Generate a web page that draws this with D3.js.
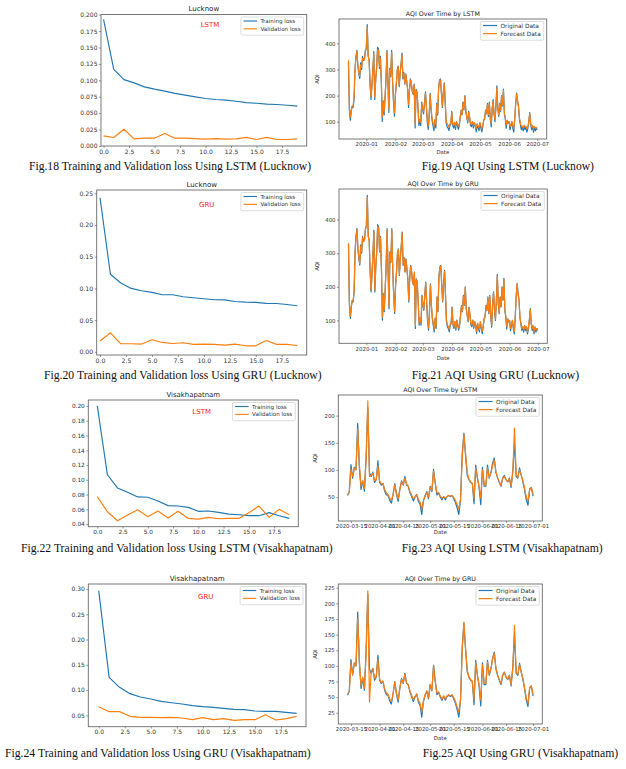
<!DOCTYPE html>
<html>
<head>
<meta charset="utf-8">
<script src="https://cdn.jsdelivr.net/npm/d3@7"></script>
<style>
body { margin: 0; background: #fff; }
svg { display: block; }
</style>
</head>
<body>
<svg id="fig" width="626" height="769"></svg>
<script>
// ---- loss curves (epochs 0..19) ----
const epochs = d3.range(20);
const lstmLkoTrain = [0.193,0.1166,0.101,0.096,0.090,0.0865,0.0835,0.080,0.0774,0.0748,0.0723,0.0707,0.0697,0.068,0.066,0.065,0.0636,0.063,0.062,0.0606];
const lstmLkoVal = [0.0153,0.0127,0.0254,0.0107,0.0117,0.0117,0.0188,0.0117,0.0117,0.011,0.0102,0.011,0.0102,0.0107,0.013,0.0097,0.013,0.0097,0.0097,0.0107];
const gruLkoTrain = [0.243,0.1223,0.1086,0.100,0.0964,0.0937,0.090,0.090,0.0869,0.0853,0.0837,0.0821,0.082,0.0794,0.0784,0.0779,0.0763,0.0762,0.0747,0.0726];
const gruLkoVal = [0.017,0.030,0.0127,0.0127,0.0122,0.019,0.0148,0.0132,0.0143,0.0117,0.0122,0.0117,0.0106,0.0122,0.0095,0.0095,0.018,0.0117,0.0117,0.010];
const lstmVizTrain = [0.200,0.1068,0.089,0.0832,0.0768,0.0764,0.0714,0.065,0.0645,0.0627,0.0573,0.0577,0.0559,0.0536,0.0527,0.0514,0.0514,0.0555,0.0514,0.0477];
const lstmVizVal = [0.0773,0.0568,0.0445,0.0523,0.0595,0.050,0.0577,0.0482,0.0573,0.0477,0.0468,0.0491,0.0473,0.0477,0.0477,0.0555,0.0645,0.0491,0.060,0.0527];
const gruVizTrain = [0.297,0.1252,0.1054,0.0929,0.0863,0.0823,0.0777,0.075,0.0724,0.0691,0.0672,0.0658,0.0639,0.0619,0.0612,0.0586,0.0579,0.0579,0.056,0.054];
const gruVizVal = [0.0672,0.0573,0.0573,0.048,0.046,0.046,0.0454,0.046,0.0447,0.0414,0.0454,0.0414,0.0434,0.0401,0.0414,0.0414,0.0513,0.0408,0.0434,0.048];

// ---- daily AQI, Lucknow from 2019-12-13 ----
const lkoStart = '2019-12-13';
const lkoOrig = [
  328,145,106,140,160,155,187,304,350,373, 314,284,265,325,300,350,335,340,373,
  380,472,350,338,244,185,240,300,368,185, 260,304,385,378,304,350,254,101,180,126,
  195,264,373,254,135,304,273,373,250,175, 121,205,244,300,313,234,283,320,363,264,
  288,244,283,254,224,155,224,264,244,214, 205,244,76,224,214,155,86,106,86,175,
  145,130,175,214,155,96,71,126,209,145, 106,86,66,106,76,170,126,230,
  259,264,205,155,214,249,175,96,81,76, 66,86,91,140,86,76,96,71,101,86,
  71,86,116,145,126,175,145,200,135,116, 96,140,116,86,81,101,76,96,86,61,
  91,76,66,96,76,61,81,106,111,145,130,
  170,120,175,110,80,150,185,130,100,160, 237,150,120,170,140,200,160,225,130,110,
  75,105,95,100,70,85,100,75,60,110, 170,210,180,160,110,90,70,80,65,85,
  70,80,60,75,100,135,90,70,85,60, 80,65,75,70
];
const lkoLstm = [
  335,160,118,145,158,162,195,298,345,368, 320,290,275,318,308,342,338,336,366,
  384,462,355,334,250,196,236,304,360,196, 256,308,376,372,310,344,258,118,176,138,
  198,262,366,258,148,300,278,365,254,180, 134,202,248,296,310,240,280,318,356,270,
  284,248,280,256,226,166,222,260,246,216, 210,240,90,220,212,160,98,110,98,170,
  150,138,172,210,158,106,84,128,204,150, 112,96,80,108,88,166,132,226,
  256,260,210,160,210,244,178,106,92,88, 80,92,96,136,92,86,98,82,100,92,
  82,90,118,142,130,170,150,196,140,118, 102,136,118,92,90,100,86,96,90,74,
  92,84,78,96,84,74,86,106,114,142,132,
  166,126,170,116,92,148,180,134,108,158, 230,156,126,168,144,196,164,220,134,116,
  88,106,98,100,82,90,100,84,74,110, 166,206,182,160,116,96,82,84,76,86,
  80,82,72,80,102,130,94,80,86,72, 82,76,78,76
];
const lkoGru = [
  330,152,112,142,159,158,190,300,347,370, 318,287,270,321,304,346,336,338,370,
  382,466,352,336,247,190,238,302,364,190, 258,306,380,375,307,347,256,110,178,132,
  196,263,369,256,141,302,275,369,252,178, 128,204,246,298,311,237,282,319,359,267,
  286,246,282,255,225,160,223,262,245,215, 207,242,84,222,213,158,92,108,92,172,
  148,134,174,212,156,101,78,127,206,147, 109,91,73,107,82,168,129,228,
  257,262,207,158,212,246,176,101,87,82, 73,89,94,138,89,81,97,77,100,89,
  77,88,117,143,128,172,147,198,137,117, 99,138,117,89,86,100,81,96,88,68,
  91,80,72,96,80,68,84,106,112,143,131,
  168,123,172,113,86,149,182,132,104,159, 233,153,123,169,142,198,162,222,132,113,
  82,105,96,100,76,88,100,80,67,110, 168,208,181,160,113,93,76,82,71,85,
  75,81,66,78,101,132,92,75,85,66, 81,71,76,73
];

// ---- daily AQI, Visakhapatnam from 2020-03-13 ----
const vizStart = '2020-03-13';
const vizOrig = [
  53,60,110,85,105,100,186,104,64,80, 61,125,215,95,88,96,77,82,117,77,
  72,75,61,54,53,44,39,55,75,55, 42,65,80,72,88,72,70,58,51,43,
  50,55,42,37,18,43,53,60,47,70, 60,101,75,54,58,50,45,51,45,51,
  53,51,53,47,40,30,18,45,130,168, 125,90,82,77,75,38,109,85,68,36,
  105,70,70,109,85,95,112,122,95,85, 77,70,85,90,82,78,85,68,98,150,
  88,85,104,90,78,63,45,35,65,68,52
];
const vizLstm = [
  55,58,102,88,103,101,175,110,70,80, 66,118,227,88,90,94,80,82,108,80,
  74,75,64,58,55,48,44,55,72,58, 47,63,78,73,85,74,70,60,54,47,
  50,54,46,41,28,43,52,58,50,68, 62,98,76,58,58,52,48,51,48,51,
  53,52,53,49,44,36,28,46,122,166, 130,95,83,78,75,48,104,86,70,48,
  100,74,72,104,86,94,108,118,96,86, 78,72,84,88,82,79,84,70,95,177,
  92,86,100,91,80,66,50,43,63,68,55
];
const vizGru = [
  56,58,105,86,104,100,176,108,68,82, 64,120,220,42,92,95,80,83,110,79,
  73,76,63,57,55,47,43,56,74,57, 46,64,79,73,86,73,70,60,53,46,
  51,55,45,40,26,44,54,59,49,70, 61,100,76,57,58,52,47,52,47,52,
  54,52,54,49,43,34,26,47,125,170, 128,93,83,78,76,46,106,86,70,45,
  102,72,72,106,86,95,110,120,96,86, 78,72,85,89,82,79,85,70,96,165,
  90,86,102,90,80,65,48,40,64,68,54
];

// ---- ticks and texts ----
const lossXTicks = [0, 2.5, 5, 7.5, 10, 12.5, 15, 17.5];
const lkoLstmYTicks = [0, 0.025, 0.05, 0.075, 0.1, 0.125, 0.15, 0.175, 0.2];
const lkoGruYTicks = [0, 0.05, 0.1, 0.15, 0.2, 0.25];
const vizLstmYTicks = [0.04, 0.06, 0.08, 0.1, 0.12, 0.14, 0.16, 0.18, 0.2];
const vizGruYTicks = [0.05, 0.1, 0.15, 0.2, 0.25, 0.3];
const lkoDateTicks = ['2020-01-01','2020-02-01','2020-03-01','2020-04-01','2020-05-01','2020-06-01','2020-07-01'];
const vizDateTicks = ['2020-03-15','2020-04-01','2020-04-15','2020-05-01','2020-05-15','2020-06-01','2020-06-15','2020-07-01'];
const lkoAqiTicks = [100, 200, 300, 400];
const vizLstmAqiTicks = [50, 100, 150, 200];
const vizGruAqiTicks = [25, 50, 75, 100, 125, 150, 175, 200, 225];
const lossLabels = ['Training loss', 'Validation loss'];
const aqiLabels = ['Original Data', 'Forecast Data'];
const captions = [
  'Fig.18 Training and Validation loss Using LSTM (Lucknow)',
  'Fig.19 AQI Using LSTM (Lucknow)',
  'Fig.20 Training and Validation loss Using GRU (Lucknow)',
  'Fig.21 AQI Using GRU (Lucknow)',
  'Fig.22 Training and Validation loss Using LSTM (Visakhapatnam)',
  'Fig.23 AQI Using LSTM (Visakhapatnam)',
  'Fig.24 Training and Validation loss Using GRU (Visakhapatnam)',
  'Fig.25 AQI Using GRU (Visakhapatnam)'
];

const blue = '#1f77b4';
const orange = '#ff7f0e';
const sans = 'DejaVu Sans, sans-serif';
const parseDay = d3.timeParse('%Y-%m-%d');

const svg = d3.select('#fig');
svg.append('rect').attr('width', 626).attr('height', 769).attr('fill', '#fff');

function dailyDates(start, n){
    const s = parseDay(start);
    return d3.range(n).map(function(i){ return d3.timeDay.offset(s, i); });
}

function padded(a, b){
    const m = (b - a) * 0.05;
    return [a - m, b + m];
}

function drawPanel(p){
    const [l, r, t, b] = p.frame;
    const g = svg.append('g');
    const x = p.x.range([l, r]);
    const y = p.y.domain(p.yDomain).range([b, t]);

    p.series.forEach(function(s){
        g.append('path')
         .datum(s.values)
         .attr('fill', 'none')
         .attr('stroke', s.color)
         .attr('stroke-width', p.lw)
         .attr('stroke-linejoin', 'round')
         .attr('d', d3.line().x(function(d, i){ return x(s.xs[i]); }).y(function(d){ return y(d); }));
    });

    g.append('rect')
     .attr('x', l).attr('y', t).attr('width', r - l).attr('height', b - t)
     .attr('fill', 'none').attr('stroke', '#6a6a6a').attr('stroke-width', 0.9);

    const xAxis = g.append('g')
                   .attr('transform', 'translate(0,' + b + ')')
                   .call(d3.axisBottom(x).tickValues(p.xTicks).tickFormat(p.xFmt).tickSize(2).tickPadding(1.5));
    const yAxis = g.append('g')
                   .attr('transform', 'translate(' + l + ',0)')
                   .call(d3.axisLeft(y).tickValues(p.yTicks).tickFormat(p.yFmt).tickSize(2).tickPadding(1.5));
    [xAxis, yAxis].forEach(function(a){
        a.select('.domain').remove();
        a.selectAll('line').attr('stroke', '#555').attr('stroke-width', 0.6);
        a.selectAll('text').attr('fill', '#333').attr('font-family', sans).attr('font-size', p.tickSize);
    });

    g.append('text')
     .text(p.title)
     .attr('x', (l + r) / 2 + (p.titleDx || 0)).attr('y', t - 3.5)
     .attr('text-anchor', 'middle')
     .attr('font-family', sans).attr('font-size', p.titleSize).attr('fill', '#222');

    if (p.note){
        g.append('text')
         .text(p.note[0])
         .attr('x', p.note[1]).attr('y', p.note[2] + 2.5)
         .attr('text-anchor', 'middle')
         .attr('font-family', sans).attr('font-size', 7).attr('fill', '#ff2020');
    }
    if (p.xLabel){
        g.append('text').text(p.xLabel)
         .attr('x', (l + r) / 2).attr('y', p.xLabel_y)
         .attr('text-anchor', 'middle')
         .attr('font-family', sans).attr('font-size', 5.4).attr('fill', '#333');
        g.append('text').text(p.yLabel)
         .attr('transform', 'translate(' + p.yLabel_x + ',' + (t + b) / 2 + ') rotate(-90)')
         .attr('text-anchor', 'middle')
         .attr('font-family', sans).attr('font-size', 5.4).attr('fill', '#333');
    }

    // legend, upper right
    const fs = p.legendSize;
    const rowH = fs * 1.4;
    const lg = g.append('g');
    const box = lg.append('rect');
    let maxW = 0;
    p.series.forEach(function(s, i){
        const ty = t + 2.5 + 4 + i * rowH;
        lg.append('line')
          .attr('x1', 0).attr('x2', fs * 2.4).attr('y1', ty).attr('y2', ty)
          .attr('stroke', s.color).attr('stroke-width', p.lw);
        const tx = lg.append('text').text(s.label)
          .attr('x', fs * 2.4 + 3.5).attr('y', ty + fs * 0.36)
          .attr('font-family', sans).attr('font-size', fs).attr('fill', '#333');
        maxW = Math.max(maxW, tx.node().getComputedTextLength());
    });
    const bw = 2.7 + fs * 2.4 + 3.5 + maxW + 3;
    const bx = r - 3 - bw;
    lg.selectAll('line, text').attr('transform', 'translate(' + (bx + 2.7) + ',0)');
    box.attr('x', bx).attr('y', t + 2.5).attr('width', bw).attr('height', rowH * 2 + 2.5)
       .attr('rx', 1.5).attr('fill', '#fff').attr('fill-opacity', 0.85)
       .attr('stroke', '#cfcfcf').attr('stroke-width', 0.7);
}

function addCaption(text, x0, x1, yb){
    svg.append('text')
       .text(text)
       .attr('x', x0).attr('y', yb)
       .attr('textLength', x1 - x0).attr('lengthAdjust', 'spacingAndGlyphs')
       .attr('font-family', 'Liberation Serif, Times New Roman, serif')
       .attr('font-size', 12.5).attr('fill', '#111');
}

const fmt3 = d3.format('.3f');
const fmt2 = d3.format('.2f');
const fmt1 = d3.format('.1f');
const fmtMonth = d3.timeFormat('%Y-%m');
const fmtDay = d3.timeFormat('%Y-%m-%d');

const lkoDates = dailyDates(lkoStart, lkoOrig.length);
const vizDates = dailyDates(vizStart, vizOrig.length);
const lkoDom = padded(+lkoDates[0], +lkoDates[lkoDates.length - 1]).map(function(v){ return new Date(v); });
const vizDom = padded(+vizDates[0], +vizDates[vizDates.length - 1]).map(function(v){ return new Date(v); });

function lossPanel(frame, xDom, yDom, yTicks, yFmt, train, val, title, note, tickSize, titleSize){
    drawPanel({
        frame: frame,
        x: d3.scaleLinear().domain(xDom),
        y: d3.scaleLinear(), yDomain: yDom,
        xTicks: lossXTicks, xFmt: fmt1, yTicks: yTicks, yFmt: yFmt,
        series: [{values: train, xs: epochs, color: blue, label: lossLabels[0]},
                 {values: val, xs: epochs, color: orange, label: lossLabels[1]}],
        lw: 1.15, tickSize: tickSize, titleSize: titleSize, legendSize: 5.6,
        title: title, note: note
    });
}

function aqiPanel(frame, xDom, dates, yDom, yTicks, xTicks, xFmt, orig, fc, title, xLabelY, yLabelX){
    drawPanel({
        frame: frame,
        x: d3.scaleTime().domain(xDom),
        y: d3.scaleLinear(), yDomain: yDom,
        xTicks: xTicks.map(parseDay), xFmt: xFmt, yTicks: yTicks, yFmt: d3.format('d'),
        series: [{values: orig, xs: dates, color: blue, label: aqiLabels[0]},
                 {values: fc, xs: dates, color: orange, label: aqiLabels[1]}],
        lw: 1.2, tickSize: 5.4, titleSize: 6.3, legendSize: 5.8,
        title: title, xLabel: 'Date', xLabel_y: xLabelY, yLabel: 'AQI', yLabel_x: yLabelX
    });
}

lossPanel([101, 306.7, 14.5, 146], [-0.25, 19.92], [-0.0002, 0.2003], lkoLstmYTicks, fmt3,
          lstmLkoTrain, lstmLkoVal, 'Lucknow', ['LSTM', 210, 24.3], 6, 7);
aqiPanel([339, 546.7, 19, 139], lkoDom, lkoDates, [34, 493], lkoAqiTicks, lkoDateTicks, fmtMonth,
         lkoOrig, lkoLstm, 'AQI Over Time by LSTM', 153.5, 318.5);

lossPanel([96.7, 306.7, 190, 355], [-0.32, 19.9], [-0.005, 0.2552], lkoGruYTicks, fmt2,
          gruLkoTrain, gruLkoVal, 'Lucknow', ['GRU', 206.7, 204.3], 6.2, 7);
aqiPanel([339, 547.3, 189, 343.3], lkoDom, lkoDates, [32, 491], lkoAqiTicks, lkoDateTicks, fmtMonth,
         lkoOrig, lkoGru, 'AQI Over Time by GRU', 359.5, 318.5);

lossPanel([88.3, 298.3, 400, 526.7], [-0.89, 19.89], [0.0365, 0.208], vizLstmYTicks, fmt2,
          lstmVizTrain, lstmVizVal, 'Visakhapatnam', ['LSTM', 201.7, 411], 5.8, 6.9);
aqiPanel([338.3, 542.3, 395, 521], vizDom, vizDates, [6, 238], vizLstmAqiTicks, vizDateTicks, fmtDay,
         vizOrig, vizLstm, 'AQI Over Time by LSTM', 533.5, 317);

lossPanel([88.3, 306, 584, 726.7], [-1.0, 19.9], [0.0275, 0.310], vizGruYTicks, fmt2,
          gruVizTrain, gruVizVal, 'Visakhapatnam', ['GRU', 205.7, 596], 6, 7.1);
aqiPanel([338.3, 542.3, 584, 724], vizDom, vizDates, [7, 231], vizGruAqiTicks, vizDateTicks, fmtDay,
         vizOrig, vizGru, 'AQI Over Time by GRU', 739.5, 317.3);

addCaption(captions[0], 29, 311, 169.5);
addCaption(captions[1], 421.7, 594, 169.5);
addCaption(captions[2], 44, 321.7, 379);
addCaption(captions[3], 411.7, 579.3, 379);
addCaption(captions[4], 21, 332.7, 552);
addCaption(captions[5], 401.7, 602.7, 551.5);
addCaption(captions[6], 5, 310.7, 756.5);
addCaption(captions[7], 422.7, 618.3, 757);
</script>
</body>
</html>
